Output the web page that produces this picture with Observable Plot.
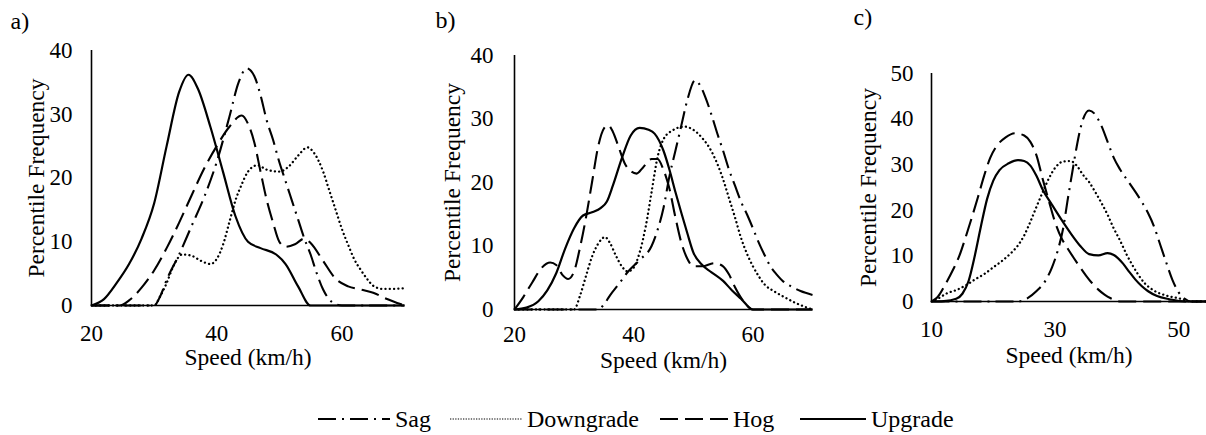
<!DOCTYPE html>
<html>
<head>
<meta charset="utf-8">
<script src="https://cdn.jsdelivr.net/npm/d3@7"></script>
<script src="https://cdn.jsdelivr.net/npm/@observablehq/plot@0.6"></script>
<style>
  html, body { margin: 0; padding: 0; background: #fff; }
  #root { position: relative; width: 1206px; height: 435px; overflow: hidden; background: #fff;
          font-family: "Liberation Serif", "DejaVu Serif", "Times New Roman", serif; color: #000; }
  #root > svg { position: absolute; }
  #root .leg { position: absolute; top: 404px; height: 30px; display: flex; align-items: center; font-size: 24px; white-space: nowrap; }
  #root .leg svg { position: static; display: block; margin-right: 5px; }
</style>
</head>
<body>
<div id="root"></div>
<script>
// ---------- DATA ----------
const seriesNames = ["Sag", "Downgrade", "Hog", "Upgrade"];

// Panel a)  [speed km/h, percentile frequency]
const aSag = [[20,0],[30,0],[31,1.5],[32,4],[34,8],[36,12.5],[38,17],[40,22.5],[42,29.5],[43.5,35],[44.8,37.2],[46,36],[47,33],[48,29],[49,26],[50,22.5],[51,19.5],[52,16.5],[53,13.5],[54,10.5],[55,8],[56,5],[57,2.5],[58.5,0.5],[60,0],[70,0]];
const aDown = [[20,0],[30,0],[31,1.5],[32,3.5],[33,6],[34.5,8],[36,7.8],[37.5,7],[39,6.5],[40,7.3],[41,9.5],[42,13],[43,16.5],[44,19],[45,21],[46.5,22],[48,21.3],[50,21],[51.5,21.8],[53,23.5],[54.5,24.8],[55.5,24],[57,21],[58,18],[59,15],[60,12],[61,9.5],[62,7.2],[63,5.6],[64,4.2],[65,3.1],[66.5,2.6],[68,2.6],[70,2.7]];
const aHog = [[20,0],[24.5,0],[26,0.8],[28,2.8],[30,5.5],[32,9],[34,13],[36,17.3],[38,21.5],[40,25],[42,28],[44,29.8],[45,28.5],[46,25.6],[47,21],[48,16.5],[49,13],[50,10],[51,9.2],[52.5,9.6],[54,10.5],[55,9.8],[57,7],[59,4.2],[61,3],[63,2.5],[65,2],[67,1.1],[70,0]];
const aUp = [[20,0],[22,1],[24,3.5],[26,6.5],[28,10.5],[30,16],[32,25],[34,33.5],[35.5,36.2],[37,34],[39,28],[41,21],[43,14],[45,10],[47,9],[49.5,8],[51,6.5],[53,3],[55,0],[70,0]];

// Panel b)
const bSag = [[20,0],[34,0],[35,0.8],[36,2.2],[37.5,4],[39,5.9],[41,7.8],[43,10],[44,12.5],[45,16],[46,21],[47,25],[48,29],[49,33],[50.3,36.1],[51,35.5],[52,33.5],[53,30.8],[54,27.8],[55,25],[56,22],[57,19.5],[58,17],[59,15],[60,12.8],[61,10.5],[62,8.5],[63,6.7],[64,5.5],[65,4.5],[66.5,3.6],[68,2.9],[70,2.3]];
const bDown = [[20,0],[30,0],[31,2.2],[32,5.3],[33,8.3],[34,10.3],[35.2,11.4],[36,10.5],[37,8.5],[38,6.8],[39,6],[40,6.6],[41,9],[42,13],[43,18.5],[44,24],[45,26.8],[46.5,28.2],[48.5,28.8],[50,28.3],[51.5,27],[53,25],[54,23],[55,20.5],[56,17.5],[57,14.5],[58,11.3],[59,8.8],[60,6.8],[61,5.2],[62,3.9],[63.5,2.9],[65,2.1],[67,1.1],[70,0]];
const bHog = [[20,0],[21.5,2],[23,4.3],[24.5,6.5],[26,7.4],[27,7],[28,5.5],[29,4.8],[30,6],[31,9.8],[32,14.5],[33,20],[34,25.5],[35,28.5],[35.7,29],[36.5,28],[37.5,25.5],[38.5,23],[39.5,21.8],[40.5,21.4],[41.5,22.3],[43,23.7],[44,23.7],[45,22],[46,19],[47,14.5],[48,10.5],[49,8],[50,6.8],[51.5,6.8],[53.5,7.3],[55,6.8],[56,5.5],[57,3.5],[58.5,1.2],[60,0],[70,0]];
const bUp = [[20,0],[22,0.3],[24,1.3],[25.5,3],[27,5.7],[28.5,9.6],[30,12.8],[31.5,14.8],[33,15.3],[34.5,16],[35.5,17],[36.5,19.5],[38,23.8],[39.5,27.4],[41,28.6],[42.5,28.3],[43.5,27.7],[45,25],[46,22],[47,18.5],[48,15.2],[49,12],[50,9],[51.5,7],[53,5.9],[55,4.5],[56.5,3],[58,1.7],[60,0],[70,0]];

// Panel c)
const cSag = [[10,0],[24,0],[25.5,0.7],[27,2.3],[28.5,4.7],[29.5,7.5],[30.5,11.5],[31.3,16],[32,22],[32.8,28.5],[33.5,34],[34.3,39],[35.5,41.9],[36.5,41],[37.5,38.5],[38.5,35],[39.5,31.5],[40.5,29],[42,26],[43.5,23],[45,19.5],[46,16.5],[47,12.5],[48,8.5],[49,4.7],[50,2],[51,0.6],[52,0],[55,0]];
const cDown = [[10,0],[11,0.6],[12.5,1.8],[14,2.5],[15.5,3.5],[17,4.8],[18.5,6],[20,7.5],[21.5,9],[23,10.8],[24,12.3],[25,14.5],[26,17.5],[27,20.8],[28,24],[29,27],[30,29.3],[31.3,30.7],[32.5,30.8],[33.5,29.8],[34.5,27.8],[35.5,26.2],[36.5,24],[37.5,21.6],[38.5,19],[39.5,16],[40.5,13.4],[41.5,10.5],[42.5,8],[43.5,5.8],[44.5,4],[46,2.4],[48,1.3],[50,0.7],[52,0],[55,0]];
const cHog = [[10,0],[11,1],[12.3,3.9],[13.5,7],[14.5,10],[15.5,14],[16.5,18.3],[17.5,22.8],[18.5,27.5],[19.5,31.5],[20.5,34],[22,36],[23.5,36.9],[25,36.4],[26,35],[27,32],[28,26.8],[29,22],[30,17.4],[31,14],[32,11.7],[33,9.6],[34,7.6],[35,5.7],[36,4],[37,2.6],[38,1.5],[39,0.7],[40.5,0],[55,0]];
const cUp = [[10,0],[12,0.1],[14,0.6],[15,1.7],[16,4.5],[17,10],[18,16.5],[19,22.5],[20,26.5],[21,28.8],[22.5,30.3],[24,31],[25,30.8],[26,29.8],[27,27.5],[28,24.5],[29.5,21.2],[31,18],[32.5,15],[34,12.3],[35.5,10.4],[37,10.1],[38.5,10.6],[39.5,10.2],[41,8.3],[42,6.5],[43,4.8],[44,3.4],[45,2.3],[46.5,1.2],[48.5,0.5],[51,0],[55,0]];

// Tick labels
const abXTicks = [20, 40, 60];
const cXTicks = [10, 30, 50];
const abYTicks = [0, 10, 20, 30, 40];
const cYTicks = [0, 10, 20, 30, 40, 50];

const xTitle = "Speed (km/h)";
const yTitle = "Percentile Frequency";

// ---------- STYLES ----------
const FONT = '"Liberation Serif", "DejaVu Serif", "Times New Roman", serif';
const lineStyle = {
  Sag:       {dash: "18,6,2,6", cap: "butt",  w: 2.1, legDash: "18,6,2,6", legW: 2},
  Downgrade: {dash: "0.1,4.2",  cap: "round", w: 2.3, legDash: "1.3,1.3",  legW: 1.2},
  Hog:       {dash: "18,7",     cap: "butt",  w: 2.1, legDash: "18,7",     legW: 2},
  Upgrade:   {dash: null,       cap: "butt",  w: 2.2, legDash: null,       legW: 2}
};

function panel(cfg) {
  const sets = [cfg.sag, cfg.down, cfg.hog, cfg.up];
  const lines = sets.map((d, i) => {
    const st = lineStyle[seriesNames[i]];
    return Plot.line(d, {
      x: p => p[0], y: p => p[1], curve: "monotone-x",
      stroke: "black", strokeWidth: st.w, strokeLinecap: st.cap,
      strokeDasharray: st.dash || undefined
    });
  });
  const svg = Plot.plot({
    width: cfg.width, height: cfg.height,
    marginLeft: cfg.ml, marginRight: cfg.mr, marginTop: cfg.mt, marginBottom: cfg.mb,
    style: {fontFamily: FONT, fontSize: "23px", color: "black", background: "transparent", overflow: "visible"},
    x: {domain: cfg.xDomain},
    y: {domain: cfg.yDomain},
    marks: [
      ...lines,
      Plot.ruleY([cfg.yDomain[0]], {stroke: "black", strokeWidth: 1.6}),
      Plot.ruleX([cfg.xDomain[0]], {stroke: "black", strokeWidth: 1.6}),
      Plot.axisX({ticks: cfg.xTicks, tickSize: 0, tickPadding: cfg.xPad, label: null, fontSize: 23, fontFamily: FONT, tickFormat: d => String(d)}),
      Plot.axisY({ticks: cfg.yTicks, tickSize: 0, tickPadding: cfg.yPad, label: null, fontSize: 23, fontFamily: FONT, tickFormat: d => String(d)}),
      Plot.text([xTitle], {text: d => d, frameAnchor: "bottom", dy: cfg.xLabOff, lineAnchor: "middle", fontSize: 23.5, fontFamily: FONT}),
      Plot.text([yTitle], {text: d => d, frameAnchor: "left", dx: -cfg.yLabOff, rotate: -90, textAnchor: "middle", lineAnchor: "middle", fontSize: 23.5, fontFamily: FONT}),
      Plot.text([cfg.tag], {text: d => d, frameAnchor: "top-left", dx: cfg.tagDx, dy: cfg.tagDy, textAnchor: "start", lineAnchor: "middle", fontSize: 24, fontFamily: FONT})
    ]
  });
  svg.style.left = cfg.left + "px";
  svg.style.top = "0px";
  return svg;
}

const root = document.getElementById("root");

root.appendChild(panel({
  sag: aSag, down: aDown, hog: aHog, up: aUp,
  left: 0, width: 410, height: 380, ml: 91, mr: 6, mt: 50, mb: 75,
  xDomain: [20, 70], yDomain: [0, 40], xTicks: abXTicks, yTicks: abYTicks,
  xPad: 19, yPad: 19, xLabOff: 52, yLabOff: 55, tag: "a)", tagDx: -81, tagDy: -29
}));
root.appendChild(panel({
  sag: bSag, down: bDown, hog: bHog, up: bUp,
  left: 400, width: 415, height: 380, ml: 114, mr: 3, mt: 55, mb: 71,
  xDomain: [20, 70], yDomain: [0, 40], xTicks: abXTicks, yTicks: abYTicks,
  xPad: 16, yPad: 21, xLabOff: 51, yLabOff: 62, tag: "b)", tagDx: -79, tagDy: -35
}));
root.appendChild(panel({
  sag: cSag, down: cDown, hog: cHog, up: cUp,
  left: 800, width: 406, height: 380, ml: 131, mr: 0, mt: 73, mb: 79,
  xDomain: [10, 54.5], yDomain: [0, 50], xTicks: cXTicks, yTicks: cYTicks,
  xPad: 19, yPad: 18, xLabOff: 54, yLabOff: 63, tag: "c)", tagDx: -78, tagDy: -56
}));

// ---------- LEGEND ----------
const legendPos = [{left: 318, w: 72}, {left: 450, w: 72}, {left: 660, w: 68}, {left: 800, w: 66}];
const ns = "http://www.w3.org/2000/svg";
seriesNames.forEach((name, i) => {
  const st = lineStyle[name];
  const item = document.createElement("div");
  item.className = "leg";
  item.style.left = legendPos[i].left + "px";
  const w = legendPos[i].w;
  const s = document.createElementNS(ns, "svg");
  s.setAttribute("width", w); s.setAttribute("height", 10);
  const l = document.createElementNS(ns, "line");
  l.setAttribute("x1", 0); l.setAttribute("x2", w);
  l.setAttribute("y1", 5); l.setAttribute("y2", 5);
  l.setAttribute("stroke", "black");
  l.setAttribute("stroke-width", st.legW);
  if (st.legDash) l.setAttribute("stroke-dasharray", st.legDash);
  s.appendChild(l);
  item.appendChild(s);
  const t = document.createElement("span");
  t.textContent = name;
  item.appendChild(t);
  root.appendChild(item);
});
</script>
</body>
</html>
